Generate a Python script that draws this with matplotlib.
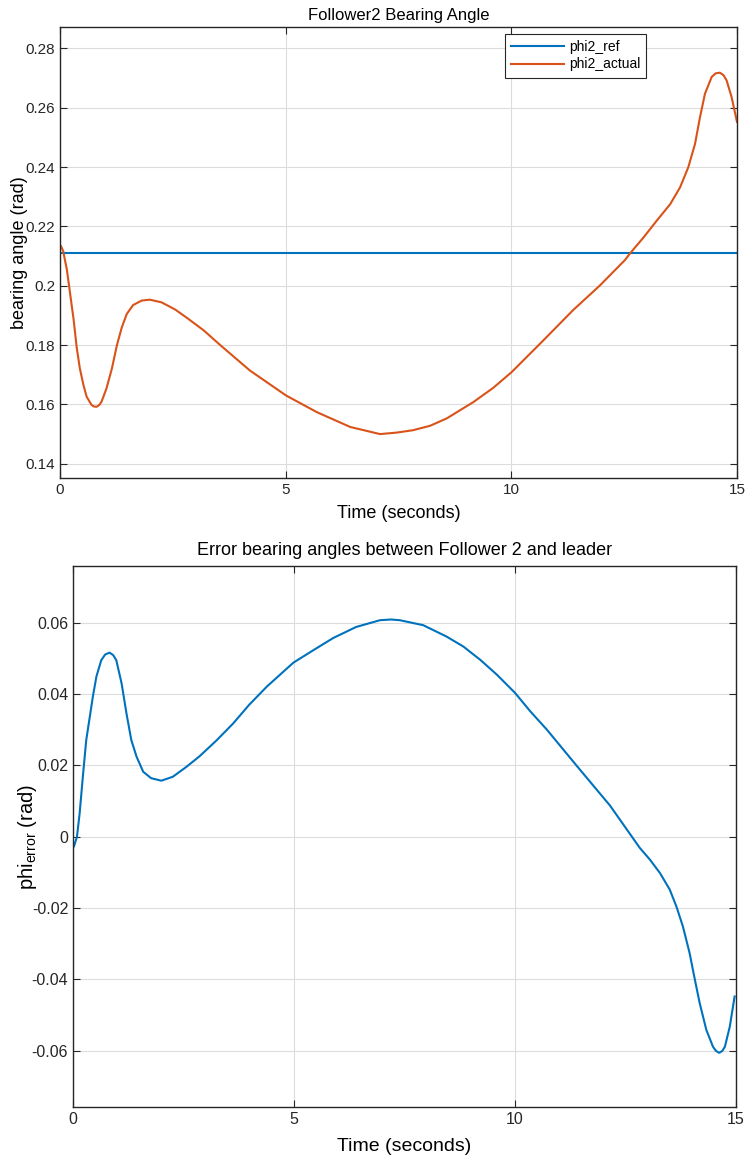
import matplotlib
matplotlib.use("Agg")
import matplotlib.pyplot as plt

# ---------------- data ----------------
phi2_ref_value = 0.211

t_actual = [0.0, 0.02, 0.07, 0.15, 0.22, 0.30, 0.37, 0.44, 0.52, 0.59, 0.70, 0.75, 0.81,
            0.87, 0.92, 1.03, 1.15, 1.26, 1.37, 1.48, 1.62, 1.81, 1.99, 2.25, 2.55, 2.81,
            3.18, 3.55, 4.21, 5.01, 5.69, 6.43, 7.09, 7.46, 7.82, 8.20, 8.57, 9.16,
            9.60, 10.0, 10.71, 11.37, 11.97, 12.52, 12.63, 12.93, 13.22, 13.52,
            13.74, 13.92, 14.07, 14.18, 14.29, 14.44, 14.53, 14.62, 14.70, 14.77, 14.88,
            15.0]
phi2_actual = [0.2130, 0.2134, 0.2117, 0.2056, 0.1978, 0.1888, 0.1792, 0.1721, 0.1665,
               0.1626, 0.1598, 0.1593, 0.1592, 0.1598, 0.1609, 0.1654, 0.1721, 0.1799,
               0.1860, 0.1905, 0.1935, 0.1950, 0.1953, 0.1944, 0.1920, 0.1892, 0.1850,
               0.1800, 0.1714, 0.1630, 0.1574, 0.1524, 0.1500, 0.1505, 0.1513, 0.1528,
               0.1553, 0.1608, 0.1656, 0.1708, 0.1816, 0.1918, 0.2002, 0.2087, 0.2109,
               0.2163, 0.2219, 0.2275, 0.2332, 0.2399, 0.2478, 0.2568, 0.2647, 0.2704,
               0.2716, 0.2718, 0.2710, 0.2692, 0.2636, 0.2552]

t_err = [0.0, 0.02, 0.09, 0.15, 0.23, 0.30, 0.38, 0.45, 0.53, 0.64, 0.73, 0.83, 0.91,
         0.98, 1.10, 1.21, 1.32, 1.44, 1.59, 1.77, 2.00, 2.26, 2.57, 2.87, 3.25, 3.63,
         3.99, 4.39, 4.99, 5.43, 5.89, 6.41, 6.95, 7.20, 7.40, 7.93, 8.46, 8.84, 9.22,
         9.60, 10.01, 10.35, 10.73, 11.41, 12.16, 12.83, 13.06, 13.29, 13.51, 13.66,
         13.81, 13.96, 14.08, 14.19, 14.34, 14.49, 14.56, 14.63, 14.70, 14.76, 14.87,
         14.98]
phi_error = [-0.0022, -0.0028, 0.0000, 0.0065, 0.0178, 0.0271, 0.0336, 0.0393, 0.0449,
             0.0495, 0.0511, 0.0516, 0.0509, 0.0495, 0.0430, 0.0346, 0.0271, 0.0224,
             0.0182, 0.0164, 0.0157, 0.0168, 0.0196, 0.0226, 0.0270, 0.0318, 0.0370,
             0.0421, 0.0488, 0.0522, 0.0557, 0.0588, 0.0607, 0.0609, 0.0607, 0.0593,
             0.0561, 0.0533, 0.0496, 0.0454, 0.0403, 0.0352, 0.0300, 0.0198, 0.0087,
             -0.0031, -0.0064, -0.0102, -0.0148, -0.0195, -0.0252, -0.0326, -0.0401,
             -0.0467, -0.0542, -0.0589, -0.0601, -0.0606, -0.0601, -0.0589, -0.0533,
             -0.0448]

x_ticks = [0, 5, 10, 15]
top_yticks = [0.14, 0.16, 0.18, 0.2, 0.22, 0.24, 0.26, 0.28]
top_yticklabels = ["0.14", "0.16", "0.18", "0.2", "0.22", "0.24", "0.26", "0.28"]
bot_yticks = [-0.06, -0.04, -0.02, 0, 0.02, 0.04, 0.06]
bot_yticklabels = ["-0.06", "-0.04", "-0.02", "0", "0.02", "0.04", "0.06"]

# ---------------- style ----------------
plt.rcParams['font.family'] = ['Liberation Sans', 'DejaVu Sans']
plt.rcParams['mathtext.fontset'] = 'custom'
plt.rcParams['mathtext.rm'] = 'Liberation Sans'
plt.rcParams['mathtext.it'] = 'Liberation Sans'
AX_COL = '#262626'
BLUE = '#0072BD'
ORANGE = '#D95319'

fig = plt.figure(figsize=(7.49, 11.59), dpi=100)

def style(ax):
    for s in ax.spines.values():
        s.set_color(AX_COL)
        s.set_linewidth(1.0)
    ax.tick_params(direction='in', top=True, right=True, length=5, width=0.8,
                   colors=AX_COL, labelsize=11, labelcolor='#262626')
    ax.grid(True, color='#dcdcdc', linewidth=0.8)
    ax.set_axisbelow(True)

# top axes
ax1 = fig.add_axes([60/749, 1-478/1159, (737-60)/749, (478-27)/1159])
ax1.plot([0, 15], [phi2_ref_value, phi2_ref_value], color=BLUE, lw=1.5, label='phi2_ref')
ax1.plot(t_actual, phi2_actual, color=ORANGE, lw=1.5, label='phi2_actual')
ax1.set_xlim(0, 15)
ax1.set_ylim(0.1352, 0.2872)
ax1.set_xticks(x_ticks)
ax1.set_yticks(top_yticks)
ax1.set_yticklabels(top_yticklabels)
style(ax1)
ax1.set_title('Follower2 Bearing Angle', fontsize=12, color='#000000', pad=5)
ax1.set_xlabel('Time (seconds)', fontsize=13, labelpad=6)
ax1.set_ylabel('bearing angle (rad)', fontsize=13)
ax1.yaxis.set_label_coords(-0.048, 0.5)
leg = ax1.legend(loc='upper left', bbox_to_anchor=(0.657, 0.985), fontsize=10,
                 frameon=True, fancybox=False, framealpha=1, edgecolor='#262626',
                 handlelength=3.8, handletextpad=0.35, borderpad=0.45, labelspacing=0.25,
                 borderaxespad=0)
leg.get_frame().set_linewidth(0.8)

# bottom axes
ax2 = fig.add_axes([73/749, 1-1107/1159, (735.5-73)/749, (1107-566)/1159])
ax2.plot(t_err, phi_error, color=BLUE, lw=1.5)
ax2.set_xlim(0, 15)
ax2.set_ylim(-0.0758, 0.0759)
ax2.set_xticks(x_ticks)
ax2.set_yticks(bot_yticks)
ax2.set_yticklabels(bot_yticklabels)
style(ax2)
ax2.tick_params(labelsize=11.5)
ax2.set_title('Error bearing angles between Follower 2 and leader', fontsize=13,
              color='#000000', pad=8)
ax2.set_xlabel('Time (seconds)', fontsize=14, labelpad=8)
ax2.set_ylabel(r'phi$_{\mathrm{error}}$ (rad)', fontsize=14.5)
ax2.yaxis.set_label_coords(-0.052, 0.5)

fig.savefig('out.png', dpi=100)
